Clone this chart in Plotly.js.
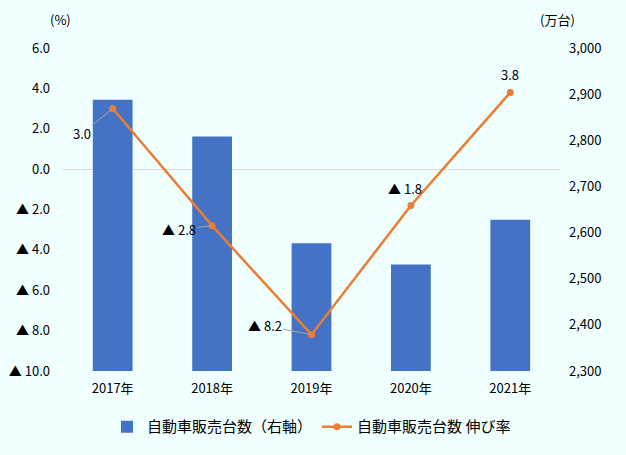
<!DOCTYPE html>
<html><head><meta charset="utf-8">
<script src="https://cdn.plot.ly/plotly-3.0.1.min.js"></script>
<style>html,body{margin:0;padding:0;background:#F0FFFF;}</style>
</head><body>
<div id="chart" style="width:626px;height:455px;"></div>
<script>
const years = ["2017年","2018年","2019年","2020年","2021年"];
const sales = [2888, 2808, 2577, 2531, 2628];
const growth = [3.0, -2.8, -8.2, -1.8, 3.8];
const growthLabels = ["3.0","▲ 2.8","▲ 8.2","▲ 1.8","3.8"];
const leftTickVals = [6,4,2,0,-2,-4,-6,-8,-10];
const leftTickText = ["6.0","4.0","2.0","0.0","▲ 2.0","▲ 4.0","▲ 6.0","▲ 8.0","▲ 10.0"];
const rightTickVals = [2300,2400,2500,2600,2700,2800,2900,3000];

const FONT = '"Noto Sans CJK JP", "Noto Sans", sans-serif';
const FS = 13;

const bar = {
  type:'bar', x: years, y: sales, name:'自動車販売台数（右軸）',
  marker:{color:'#4472C4'}, width:0.4, yaxis:'y', hoverinfo:'skip'
};
const line = {
  type:'scatter', mode:'lines+markers', x: years, y: growth, name:'自動車販売台数 伸び率',
  line:{color:'#ED7D31', width:2.5}, marker:{color:'#ED7D31', size:7}, yaxis:'y2'
};

const offsets = [
  {ax:-31, ay:25, arrow:true},
  {ax:-33, ay:4, arrow:true},
  {ax:-47, ay:-9, arrow:true},
  {ax:-6, ay:-17, arrow:false},
  {ax:0, ay:-18, arrow:false}
];
const annotations = years.map((yr,i)=>{
  const o = offsets[i];
  if (o.arrow) {
    return {x:yr, y:growth[i], xref:'x', yref:'y2', text:growthLabels[i], showarrow:true,
      arrowhead:0, arrowwidth:1, arrowcolor:'#A6A6A6', ax:o.ax, ay:o.ay,
      font:{family:FONT, size:FS, color:'#000'}};
  }
  return {x:yr, y:growth[i], xref:'x', yref:'y2', text:growthLabels[i], showarrow:false,
    xshift:o.ax, yshift:-o.ay, font:{family:FONT, size:FS, color:'#000'}};
});
annotations.push({xref:'paper', yref:'paper', x:-0.03, y:1.087, yanchor:'middle', text:'(%)', showarrow:false,
  font:{family:FONT, size:FS, color:'#000'}});
annotations.push({xref:'paper', yref:'paper', x:1.035, y:1.087, yanchor:'middle', text:'(万台)', showarrow:false,
  font:{family:FONT, size:FS, color:'#000'}});

const layout = {
  width:626, height:455,
  paper_bgcolor:'#F0FFFF', plot_bgcolor:'#F0FFFF',
  margin:{l:63, r:66, t:48, b:84},
  font:{family:FONT, size:FS, color:'#000'},
  showlegend:true,
  legend:{orientation:'h', x:0.5, xanchor:'center', y:-0.173, yanchor:'middle',
    font:{family:FONT, size:15, color:'#000'}, itemwidth:30, bgcolor:'rgba(0,0,0,0)'},
  xaxis:{type:'category', showgrid:false, zeroline:false, showline:false, ticks:'',
    ticklabelstandoff:8, tickfont:{family:FONT, size:FS, color:'#000'}},
  yaxis:{side:'right', range:[2300,3000], tickvals:rightTickVals, tickformat:',',
    showgrid:false, zeroline:false, showline:false, ticks:'', ticklabelstandoff:8,
    tickfont:{family:FONT, size:FS, color:'#000'}},
  yaxis2:{overlaying:'y', side:'left', range:[-10,6], tickvals:leftTickVals, ticktext:leftTickText,
    showgrid:false, zeroline:true, zerolinecolor:'#D9D9D9', zerolinewidth:1, showline:false, ticks:'',
    ticklabelstandoff:12, tickfont:{family:FONT, size:FS, color:'#000'}},
  annotations: annotations
};

Plotly.newPlot('chart', [bar, line], layout, {displayModeBar:false, staticPlot:true});
</script>
</body></html>
